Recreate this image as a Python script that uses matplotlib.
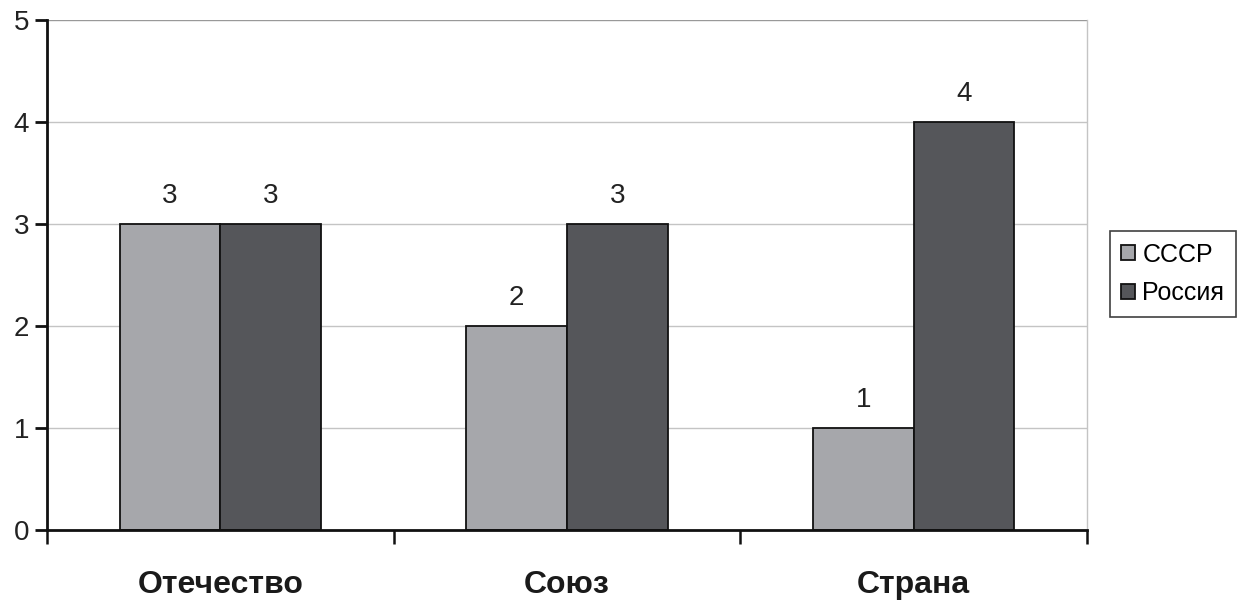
import matplotlib
matplotlib.use('Agg')
import matplotlib.pyplot as plt
import numpy as np

categories = ['Отечество', 'Союз', 'Страна']
series_names = ['СССР', 'Россия']
sssr = [3, 2, 1]
rossiya = [3, 3, 4]
y_ticks = [0, 1, 2, 3, 4, 5]

plt.rcParams['font.family'] = ['Liberation Sans', 'DejaVu Sans']

fig = plt.figure(figsize=(12.43, 6.0), dpi=100)
ax = fig.add_axes([47 / 1243, 70 / 600, 1040 / 1243, 510 / 600])

x = np.arange(len(categories))
w = 0.29
b1 = ax.bar(x - w / 2, sssr, w, color='#a6a7ab', edgecolor='#111111', linewidth=1.3, label=series_names[0], zorder=3)
b2 = ax.bar(x + w / 2, rossiya, w, color='#55565a', edgecolor='#111111', linewidth=1.3, label=series_names[1], zorder=3)

for bars in (b1, b2):
    for r in bars:
        ax.text(r.get_x() + r.get_width() / 2, r.get_height() + 0.15, '%d' % r.get_height(),
                ha='center', va='bottom', fontsize=20, color='#222222')

ax.set_xlim(-0.5, len(categories) - 0.5)
ax.set_ylim(0, 5)
ax.set_yticks(y_ticks)
ax.set_yticklabels([str(t) for t in y_ticks], fontsize=20, color='#222222')
for t in y_ticks[1:]:
    ax.axhline(t, color='#c4c4c4' if t < 5 else '#999999', linewidth=1.0, zorder=1)

# category ticks sit at the boundaries, labels in the middle
ax.set_xticks(np.arange(len(categories) + 1) - 0.5)
ax.set_xticklabels([])
ax.set_xticks(x, minor=True)
ax.set_xticklabels(categories, minor=True, fontsize=23, fontweight='bold', color='#1a1a1a')
ax.tick_params(axis='x', which='minor', length=0, pad=29)
ax.tick_params(axis='x', which='major', direction='out', length=10, width=1.8, color='#111111')
ax.tick_params(axis='y', direction='out', length=9, width=2, color='#111111', pad=4)

ax.spines['left'].set_linewidth(2)
ax.spines['left'].set_color('#111111')
ax.spines['bottom'].set_linewidth(2)
ax.spines['bottom'].set_color('#111111')
ax.spines['bottom'].set_zorder(4)
ax.spines['top'].set_visible(False)
ax.spines['right'].set_color('#c4c4c4')
ax.spines['right'].set_linewidth(1.0)

leg = fig.legend(handles=[b1, b2], labels=series_names, loc='center left',
                 bbox_to_anchor=(1110 / 1243, 1 - 274 / 600), fontsize=18,
                 frameon=True, fancybox=False, edgecolor='#111111',
                 handlelength=0.55, handleheight=0.55, handletextpad=0.3,
                 borderpad=0.45, labelspacing=0.6, borderaxespad=0)
leg.get_frame().set_linewidth(1.2)

fig.savefig('out.png', dpi=100)
